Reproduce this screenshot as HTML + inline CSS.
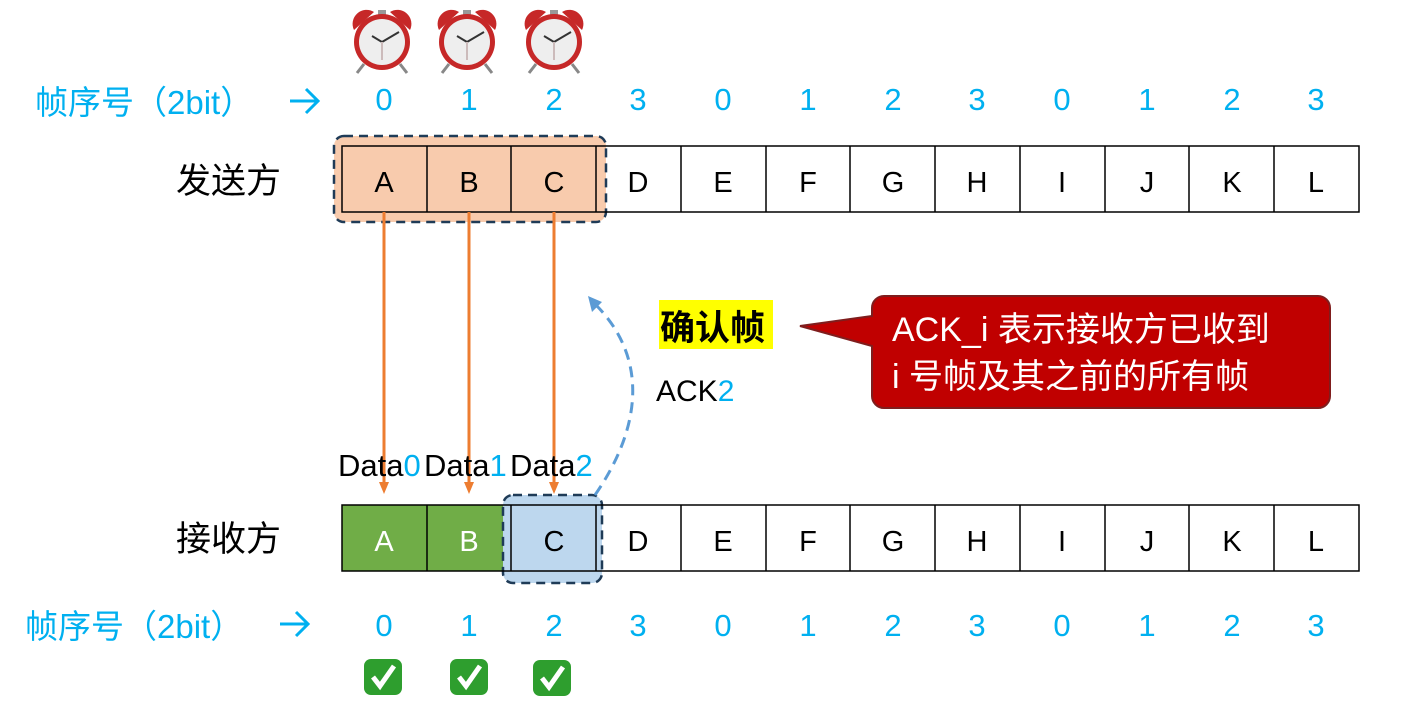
<!DOCTYPE html>
<html><head><meta charset="utf-8"><style>
body{margin:0;background:#fff;width:1419px;height:715px;overflow:hidden;position:relative;font-family:"Liberation Sans","Noto Sans CJK SC",sans-serif}
</style></head><body>
<svg width="1419" height="715" viewBox="0 0 1419 715" style="position:absolute;left:0;top:0" font-family="Liberation Sans, Noto Sans CJK SC, sans-serif">
<defs>
<g id="clock">
 <path d="M-28,-12 A14,14 0 0 1 -8,-30 Z" fill="#c62828"/>
 <path d="M28,-12 A14,14 0 0 0 8,-30 Z" fill="#c62828"/>
 <rect x="-4" y="-32" width="8" height="5" fill="#999"/>
 <line x1="-18" y1="22" x2="-25" y2="31" stroke="#888" stroke-width="3"/>
 <line x1="18" y1="22" x2="25" y2="31" stroke="#888" stroke-width="3"/>
 <circle r="28" fill="#c62828"/>
 <circle r="23" fill="#eee"/>
 <line x1="0" y1="0" x2="-10" y2="-6" stroke="#333" stroke-width="2"/>
 <line x1="0" y1="0" x2="17" y2="-10" stroke="#333" stroke-width="2"/>
 <line x1="0" y1="0" x2="0" y2="18" stroke="#cbb" stroke-width="2"/>
</g>
<g id="chk">
 <rect x="-19" y="-18" width="38" height="36" rx="7" fill="#2e9e2e"/>
 <path d="M-10,0 L-3,9 L11,-11" fill="none" stroke="#fff" stroke-width="5"/>
</g>
</defs>
<use href="#clock" x="382" y="42"/><use href="#clock" x="467" y="42"/><use href="#clock" x="554" y="42"/>
<g fill="#00b0f0">
<text x="35" y="114" font-size="33">帧序号（2bit）</text>
<text x="25" y="638" font-size="33">帧序号（2bit）</text>
</g>
<g stroke="#00b0f0" stroke-width="3" fill="none">
<path d="M290,101 H318 M306,89 L318,101 L306,113"/>
<path d="M280,624 H308 M296,612 L308,624 L296,636"/>
</g>
<g font-size="31" fill="#00b0f0" text-anchor="middle">
<text x="384" y="110">0</text><text x="469" y="110">1</text><text x="554" y="110">2</text><text x="638" y="110">3</text><text x="723" y="110">0</text><text x="808" y="110">1</text><text x="893" y="110">2</text><text x="977" y="110">3</text><text x="1062" y="110">0</text><text x="1147" y="110">1</text><text x="1232" y="110">2</text><text x="1316" y="110">3</text>
<text x="384" y="636">0</text><text x="469" y="636">1</text><text x="554" y="636">2</text><text x="638" y="636">3</text><text x="723" y="636">0</text><text x="808" y="636">1</text><text x="893" y="636">2</text><text x="977" y="636">3</text><text x="1062" y="636">0</text><text x="1147" y="636">1</text><text x="1232" y="636">2</text><text x="1316" y="636">3</text>
</g>
<text x="176" y="193" font-size="35">发送方</text>
<text x="176" y="551" font-size="35">接收方</text>
<rect x="334" y="136" width="272" height="86" rx="10" fill="#f8cbad" stroke="#1f3b57" stroke-width="2.5" stroke-dasharray="9,6"/>
<rect x="342" y="146" width="1017" height="66" fill="none" stroke="#000" stroke-width="1.5"/>
<g stroke="#000" stroke-width="1.5">
<line x1="427" y1="146" x2="427" y2="212"/><line x1="511" y1="146" x2="511" y2="212"/><line x1="596" y1="146" x2="596" y2="212"/><line x1="681" y1="146" x2="681" y2="212"/><line x1="766" y1="146" x2="766" y2="212"/><line x1="850" y1="146" x2="850" y2="212"/><line x1="935" y1="146" x2="935" y2="212"/><line x1="1020" y1="146" x2="1020" y2="212"/><line x1="1105" y1="146" x2="1105" y2="212"/><line x1="1189" y1="146" x2="1189" y2="212"/><line x1="1274" y1="146" x2="1274" y2="212"/>
</g>
<rect x="342" y="505" width="169" height="66" fill="#70ad47"/>
<rect x="503" y="495" width="99" height="88" rx="10" fill="#bdd7ee" stroke="#1f3b57" stroke-width="2.5" stroke-dasharray="9,6"/>
<rect x="342" y="505" width="1017" height="66" fill="none" stroke="#000" stroke-width="1.5"/>
<g stroke="#000" stroke-width="1.5">
<line x1="427" y1="505" x2="427" y2="571"/><line x1="511" y1="505" x2="511" y2="571"/><line x1="596" y1="505" x2="596" y2="571"/><line x1="681" y1="505" x2="681" y2="571"/><line x1="766" y1="505" x2="766" y2="571"/><line x1="850" y1="505" x2="850" y2="571"/><line x1="935" y1="505" x2="935" y2="571"/><line x1="1020" y1="505" x2="1020" y2="571"/><line x1="1105" y1="505" x2="1105" y2="571"/><line x1="1189" y1="505" x2="1189" y2="571"/><line x1="1274" y1="505" x2="1274" y2="571"/>
</g>
<g font-size="29" text-anchor="middle">
<text x="384" y="192">A</text><text x="469" y="192">B</text><text x="554" y="192">C</text><text x="638" y="192">D</text><text x="723" y="192">E</text><text x="808" y="192">F</text><text x="893" y="192">G</text><text x="977" y="192">H</text><text x="1062" y="192">I</text><text x="1147" y="192">J</text><text x="1232" y="192">K</text><text x="1316" y="192">L</text>
<text x="384" y="551" fill="#fff">A</text><text x="469" y="551" fill="#fff">B</text><text x="554" y="551">C</text><text x="638" y="551">D</text><text x="723" y="551">E</text><text x="808" y="551">F</text><text x="893" y="551">G</text><text x="977" y="551">H</text><text x="1062" y="551">I</text><text x="1147" y="551">J</text><text x="1232" y="551">K</text><text x="1316" y="551">L</text>
</g>
<g stroke="#ed7d31" stroke-width="3">
<line x1="384" y1="212" x2="384" y2="486"/><line x1="469" y1="212" x2="469" y2="486"/><line x1="554" y1="212" x2="554" y2="486"/>
</g>
<g fill="#ed7d31"><path d="M379,482 L389,482 L384,494Z"/><path d="M464,482 L474,482 L469,494Z"/><path d="M549,482 L559,482 L554,494Z"/></g>
<g font-size="31">
<text x="338" y="476">Data<tspan fill="#00b0f0">0</tspan></text>
<text x="424" y="476">Data<tspan fill="#00b0f0">1</tspan></text>
<text x="510" y="476">Data<tspan fill="#00b0f0">2</tspan></text>
</g>
<path d="M595,495 C640,430 650,360 596,305" fill="none" stroke="#5b9bd5" stroke-width="3" stroke-dasharray="11,7"/>
<path d="M588,296 L602,302 L592,312Z" fill="#5b9bd5"/>
<text x="656" y="401" font-size="30">ACK<tspan fill="#00b0f0">2</tspan></text>
<rect x="659" y="300" width="114" height="49" fill="#ffff00"/>
<text x="660" y="340" font-size="35" font-weight="bold">确认帧</text>
<path d="M884,296 H1318 a12,12 0 0 1 12,12 V396 a12,12 0 0 1 -12,12 H884 a12,12 0 0 1 -12,-12 V346 L800,326 L872,316 V308 a12,12 0 0 1 12,-12Z" fill="#c00000" stroke="#7f1d1d" stroke-width="2"/>
<text x="892" y="341" font-size="34" fill="#fff">ACK_i 表示接收方已收到</text>
<text x="892" y="388" font-size="34" fill="#fff">i 号帧及其之前的所有帧</text>
<use href="#chk" x="383" y="677"/><use href="#chk" x="469" y="677"/><use href="#chk" x="552" y="678"/>
</svg>
</body></html>
